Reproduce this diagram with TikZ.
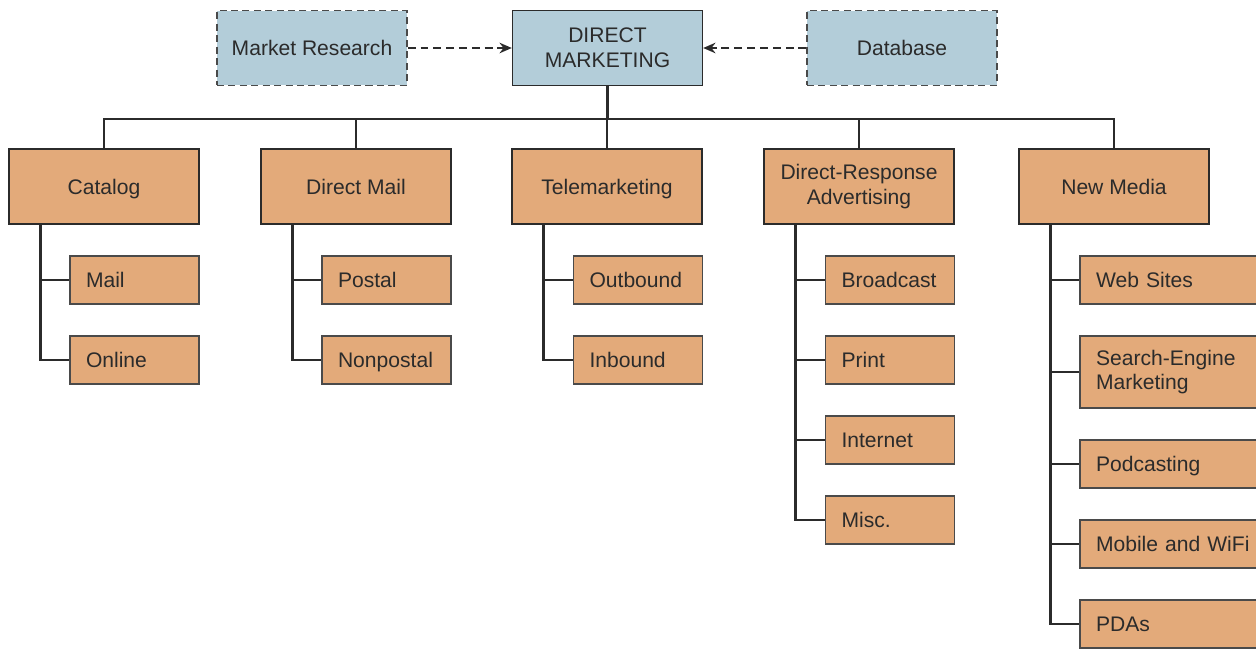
\documentclass[tikz,border=0pt]{standalone}
\usepackage{fontspec}
\setmainfont{Liberation Sans}
\usetikzlibrary{arrows.meta,positioning,calc}
\usepackage{xcolor}
\definecolor{dmInk}{HTML}{2B2B2B}
\definecolor{dmEdge}{HTML}{4A4A4A}
\definecolor{dmBlue}{HTML}{B3CDD9}
\definecolor{dmTan}{HTML}{E3AA7A}
\tikzset{
  oneline/.style={text height=9pt, text depth=0.4pt},
  box/.style={draw=dmInk, line width=0.8pt, fill=dmTan, minimum width=3.8cm, minimum height=1.5cm, inner sep=2pt, font=\fontsize{12}{14}\selectfont, align=center, text=dmInk},
  box1/.style={box, oneline},
  boxB/.style={box, fill=dmBlue},
  boxD/.style={boxB, oneline, dash pattern=on 4pt off 2.5pt, draw=dmEdge},
  sub/.style={draw=dmEdge, line width=0.8pt, fill=dmTan, minimum height=0.96cm, inner xsep=0.32cm, text width=1.94cm, align=left, font=\fontsize{12}{14}\selectfont, text=dmInk},
  sub1/.style={sub, oneline},
  subW/.style={sub1, text width=3.3cm},
  tree/.style={draw=dmInk, line width=1.4pt},
  darr/.style={-{Stealth[length=7pt,width=6pt]}, draw=dmInk, line width=1.2pt, dash pattern=on 4.5pt off 2.8pt},
}

\begin{document}
\begin{tikzpicture}[x=0.02cm, y=-0.02cm]
  \useasboundingbox (0,0) rectangle (1256,649);
  \clip (0,0) rectangle (1256,649);
  % top row
  \node[boxB] (dm) at (607.5,48) {DIRECT\\MARKETING};
  \node[boxD] (mr) at (312,48) {Market Research};
  \node[boxD] (db) at (902,48) {Database};
  \draw[darr] (mr) -- (dm);
  \draw[darr] (db) -- (dm);
  % channels
  \node[box1] (cat) at (104,186.5) {Catalog};
  \node[box1] (mail) at (356,186.5) {Direct Mail};
  \node[box1] (tele) at (607,186.5) {Telemarketing};
  \node[box] (dra) at (859,186.5) {Direct-Response\\Advertising};
  \node[box1] (nm) at (1114,186.5) {New Media};
  \coordinate (bus) at (607.5,119);
  \draw[tree] (dm.south) -- (bus);
  \foreach \n in {cat,mail,tele,dra,nm}
    \draw[tree] (bus) -| (\n.north);
  % catalog
  \node[sub1] (cmail) at (134.5,280) {Mail};
  \node[sub1] (conl) at (134.5,360) {Online};
  % direct mail
  \node[sub1] (post) at (386.5,280) {Postal};
  \node[sub1] (npost) at (386.5,360) {Nonpostal};
  % telemarketing
  \node[sub1] (out) at (638,280) {Outbound};
  \node[sub1] (inb) at (638,360) {Inbound};
  % direct-response
  \node[sub1] (brd) at (890,280) {Broadcast};
  \node[sub1] (prn) at (890,360) {Print};
  \node[sub1] (inet) at (890,440) {Internet};
  \node[sub1] (misc) at (890,520) {Misc.};
  % new media
  \node[subW] (web) at (1178.5,280) {Web Sites};
  \node[sub, text width=3.3cm, minimum height=1.44cm] (sem) at (1178.5,372) {Search-Engine\\Marketing};
  \node[subW] (pod) at (1178.5,464) {Podcasting};
  \node[subW] (mob) at (1178.5,544) {Mobile and WiFi};
  \node[subW] (pda) at (1178.5,624) {PDAs};
  \foreach \p/\c in {cat/cmail,cat/conl,mail/post,mail/npost,tele/out,tele/inb,
      dra/brd,dra/prn,dra/inet,dra/misc,nm/web,nm/sem,nm/pod,nm/mob,nm/pda}
    \draw[tree] ($(\p.south west)+(32,0)$) |- (\c.west);
\end{tikzpicture}
\end{document}
